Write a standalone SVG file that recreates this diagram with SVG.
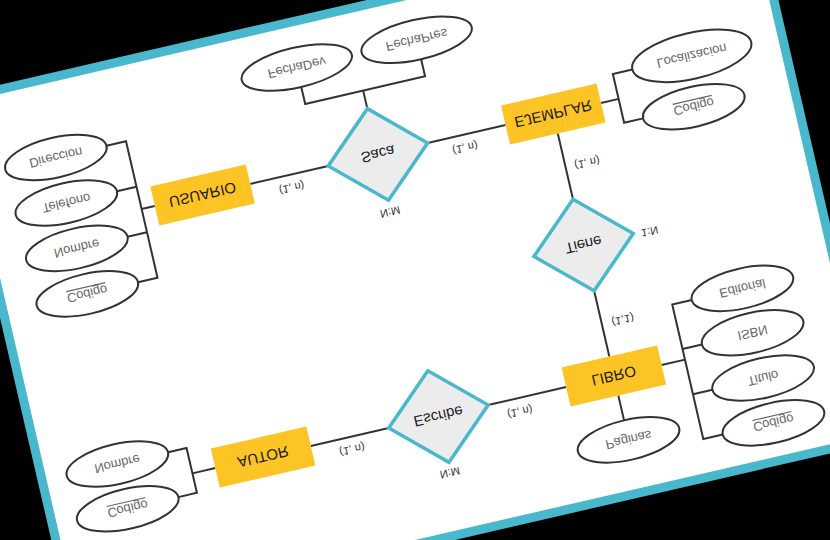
<svg xmlns="http://www.w3.org/2000/svg" width="830" height="540" viewBox="0 0 830 540">
<style>
.t{font-family:"Liberation Sans",Arial,sans-serif;text-anchor:middle;dominant-baseline:central}
.ent{fill:#FDC425}
.et{font-size:15px;fill:#1c1c1c}
.rel{fill:#ECECEC;stroke:#4AB8CC;stroke-width:3.5;stroke-linejoin:miter}
.rt{font-size:15px;fill:#222}
.att{fill:#fff;stroke:#333;stroke-width:2}
.at{font-size:13px;fill:#666}
.lb{font-size:11px;fill:#333}
.ln{fill:none;stroke:#333;stroke-width:2}
.ul{stroke:#666;stroke-width:1.2}
</style>
<rect x="0" y="0" width="830" height="540" fill="#000"/>
<g transform="matrix(0.97437,-0.22495,-0.22495,-0.97437,143.97,623.6)">
<rect id="page" x="-67" y="16" width="821" height="537" fill="#fff" stroke="#4AB8CC" stroke-width="9"/>
<g id="connectors" class="ln">
<polyline points="202.5,404.5 282.5,404.5"/>
<polyline points="384.5,404.5 464.5,404.5"/>
<polyline points="513.5,384.5 513.5,317"/>
<polyline points="513.5,223 513.5,155.5"/>
<polyline points="384.5,135.5 464.5,135.5"/>
<polyline points="202.5,135.5 282.5,135.5"/>
<polyline points="333.5,451.5 333.5,470"/>
<polyline points="274,487.5 274,470 397,470 397,487.5"/>
<polyline points="71,474 91,474 91,334 71,334"/>
<polyline points="71,427.3 91,427.3"/>
<polyline points="71,380.7 91,380.7"/>
<polyline points="91,404.5 104.5,404.5"/>
<polyline points="562.5,404.5 580.5,404.5"/>
<polyline points="600.5,430 580.5,430 580.5,380 600,380"/>
<polyline points="562.5,135.5 586.5,135.5"/>
<polyline points="606.5,192 586.5,192 586.5,54 606.5,54"/>
<polyline points="586.5,146.5 606.5,146.5"/>
<polyline points="586.5,100 606.5,100"/>
<polyline points="513.5,115.5 513.5,90"/>
<polyline points="62,161.5 81,161.5 81,115.5 62,115.5"/>
<polyline points="81,135.5 104.5,135.5"/>
</g>
<g id="labels" class="t lb">
<text x="242" y="391">(1, n)</text>
<text x="332.5" y="345.5">N:M</text>
<text x="420" y="391">(1, n)</text>
<text x="535.5" y="349">(1, n)</text>
<text x="581" y="268">1:N</text>
<text x="535" y="188">(1,1)</text>
<text x="414" y="121.5">(1, n)</text>
<text x="332" y="78">N:M</text>
<text x="242" y="122.5">(1, n)</text>
</g>
<g id="USUARIO" transform="translate(153.5,404.5)"><rect class="ent" x="-49" y="-20" width="98" height="40"/><text class="t et">USUARIO</text></g>
<g id="EJEMPLAR" transform="translate(513.5,404.5)"><rect class="ent" x="-49" y="-20" width="98" height="40"/><text class="t et">EJEMPLAR</text></g>
<g id="LIBRO" transform="translate(513.5,135.5)"><rect class="ent" x="-49" y="-20" width="98" height="40"/><text class="t et">LIBRO</text></g>
<g id="AUTOR" transform="translate(153.5,135.5)"><rect class="ent" x="-49" y="-20" width="98" height="40"/><text class="t et">AUTOR</text></g>
<g id="Saca" transform="translate(333.5,404.5)"><polygon class="rel" points="0,-47 51,0 0,47 -51,0"/><text class="t rt">Saca</text></g>
<g id="Tiene" transform="translate(513.5,270)"><polygon class="rel" points="0,-47 51,0 0,47 -51,0"/><text class="t rt">Tiene</text></g>
<g id="Escribe" transform="translate(333.5,135.5)"><polygon class="rel" points="0,-47 51,0 0,47 -51,0"/><text class="t rt">Escribe</text></g>
<g id="u_direccion" transform="translate(19,474)"><ellipse class="att" rx="52" ry="20"/><text class="t at">Direccion</text></g>
<g id="u_telefono" transform="translate(19,427.3)"><ellipse class="att" rx="52" ry="20"/><text class="t at">Telefono</text></g>
<g id="u_nombre" transform="translate(19,380.7)"><ellipse class="att" rx="52" ry="20"/><text class="t at">Nombre</text></g>
<g id="u_codigo" transform="translate(19,334)"><ellipse class="att" rx="52" ry="20"/><text class="t at">Codigo</text><line class="ul" x1="-20" y1="7" x2="20" y2="7"/></g>
<g id="s_fechadev" transform="translate(274,507.5)"><ellipse class="att" rx="56.5" ry="20"/><text class="t at">FechaDev</text></g>
<g id="s_fechapres" transform="translate(397,507.5)"><ellipse class="att" rx="56.5" ry="20"/><text class="t at">FechaPres</text></g>
<g id="e_localizacion" transform="translate(661.5,430)"><ellipse class="att" rx="61" ry="23"/><text class="t at">Localizacion</text></g>
<g id="e_codigo" transform="translate(652,380)"><ellipse class="att" rx="52" ry="20"/><text class="t at">Codigo</text><line class="ul" x1="-20" y1="7" x2="20" y2="7"/></g>
<g id="l_editorial" transform="translate(658.5,192)"><ellipse class="att" rx="52" ry="20"/><text class="t at">Editorial</text></g>
<g id="l_isbn" transform="translate(658.5,146.5)"><ellipse class="att" rx="52" ry="20"/><text class="t at">ISBN</text></g>
<g id="l_titulo" transform="translate(658.5,100)"><ellipse class="att" rx="52" ry="20"/><text class="t at">Titulo</text></g>
<g id="l_codigo" transform="translate(658.5,54)"><ellipse class="att" rx="52" ry="20"/><text class="t at">Codigo</text><line class="ul" x1="-20" y1="7" x2="20" y2="7"/></g>
<g id="l_paginas" transform="translate(513.5,70)"><ellipse class="att" rx="52" ry="20"/><text class="t at">Paginas</text></g>
<g id="a_nombre" transform="translate(10,161.5)"><ellipse class="att" rx="52" ry="20"/><text class="t at">Nombre</text></g>
<g id="a_codigo" transform="translate(10,115.5)"><ellipse class="att" rx="52" ry="20"/><text class="t at">Codigo</text><line class="ul" x1="-20" y1="7" x2="20" y2="7"/></g>
</g>
</svg>
